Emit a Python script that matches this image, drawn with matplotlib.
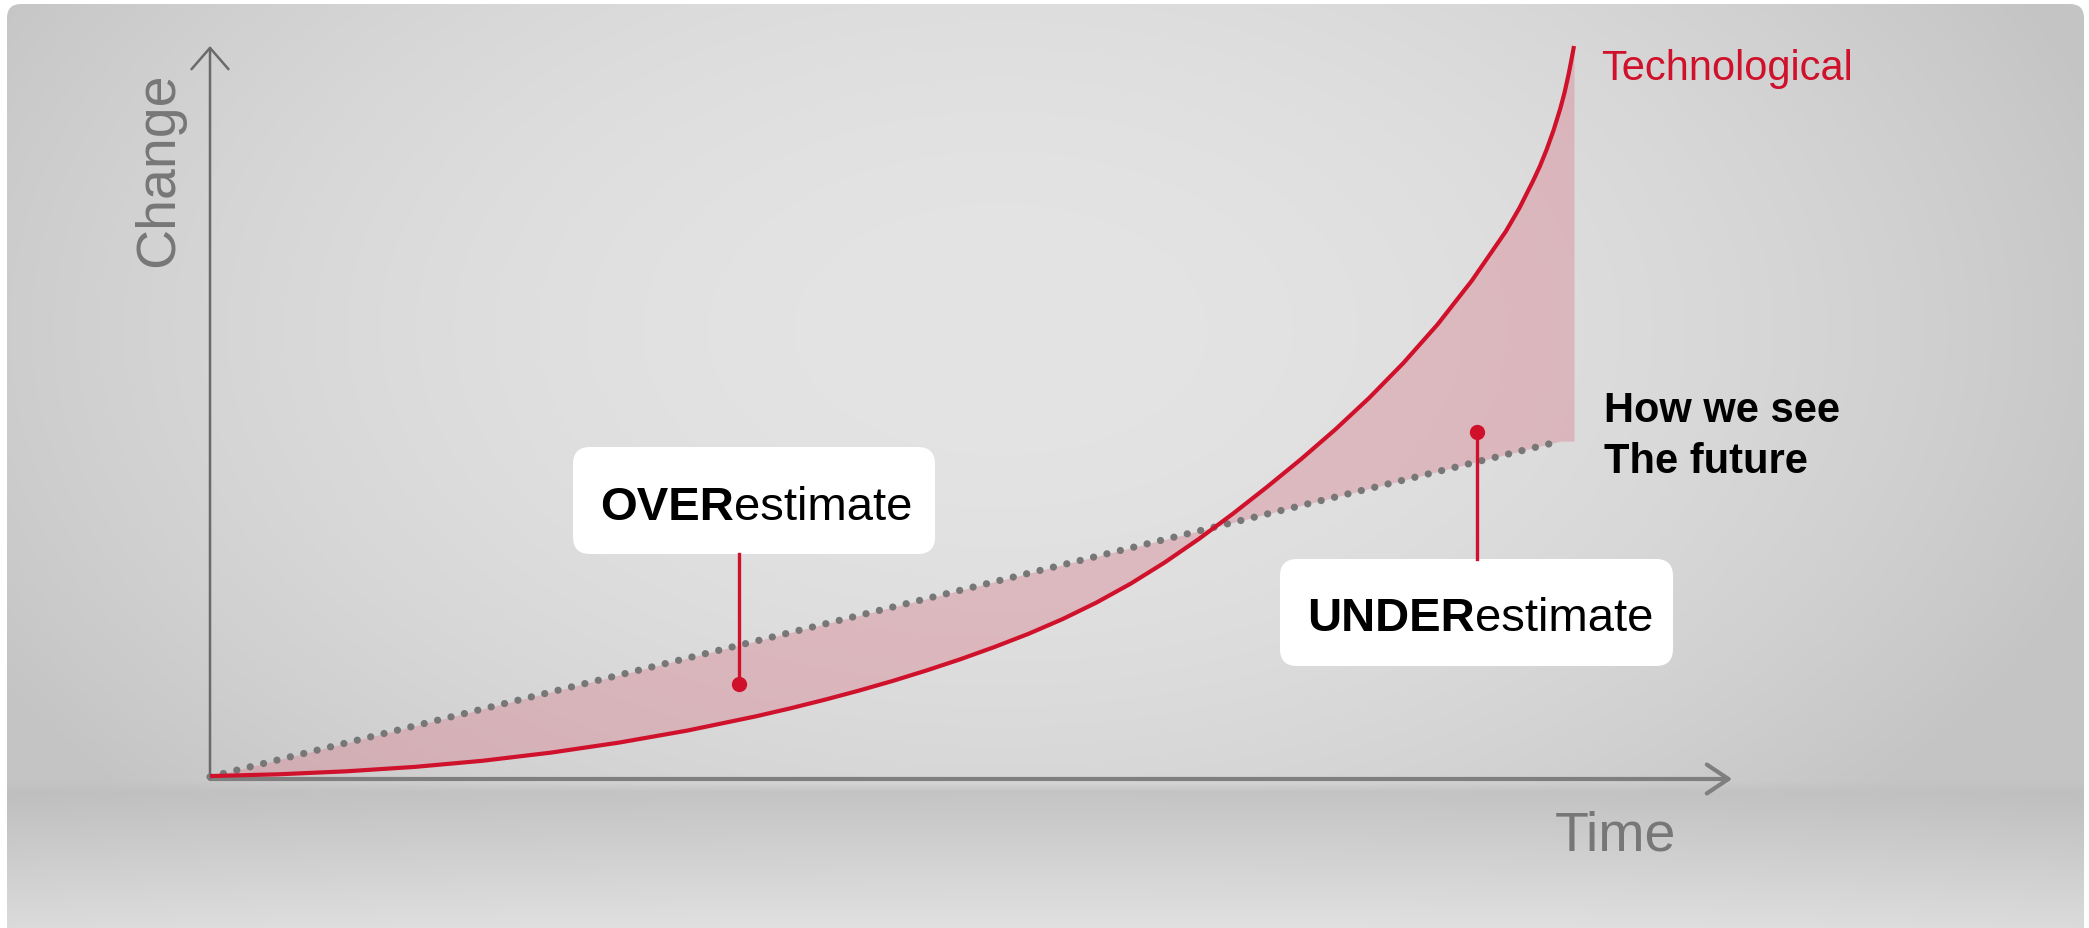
import numpy as np
import matplotlib
matplotlib.use("Agg")
import matplotlib.pyplot as plt
from matplotlib.patches import FancyBboxPatch

# ---------------- data ----------------
time = [0, 0.5, 1, 1.5, 2, 2.5, 3, 3.5, 4, 4.25, 4.5, 4.75, 5, 5.25, 5.5,
        5.75, 6, 6.25, 6.5, 6.75, 7, 7.25, 7.5, 7.75, 8, 8.25, 8.5, 8.75,
        9, 9.25, 9.5, 9.6, 9.7, 9.75, 9.8, 9.85, 9.9, 9.93, 9.96, 9.98, 10]
technological = [0.4, 0.64, 1.05, 1.65, 2.49, 3.6, 4.97, 6.61, 8.54, 9.62,
                 10.78, 12.02, 13.35, 14.79, 16.33, 18.0, 19.8, 21.81, 24.08,
                 26.65, 29.55, 32.75, 36.2, 39.85, 43.65, 47.68, 52.02, 56.77,
                 62.02, 67.96, 74.7, 77.9, 81.6, 83.6, 85.9, 88.5, 91.5, 93.6,
                 96.1, 98.0, 100]
perception_time = [0, 9.9]
perception = [0.3, 46.1]
over_point = (3.88, 13.0)
over_anchor = (3.88, 30.7)
under_point = (9.29, 47.3)
under_anchor = (9.29, 30.0)
x_axis_end = 11.16
y_axis_end = 100

series_label = "Technological"
perception_label = ["How we see", "The future"]
x_label = "Time"
y_label = "Change"

RED = "#d0112b"
FONT = "Liberation Sans"

W, H = 2089, 929
fig = plt.figure(figsize=(W / 100, H / 100), dpi=100)
fig.patch.set_facecolor("white")

# ---------------- background (pixel-space layer) ----------------
bg = fig.add_axes([0, 0, 1, 1], zorder=0)
bg.set_xlim(0, W)
bg.set_ylim(H, 0)
bg.axis("off")
yy, xx = np.mgrid[0:H, 0:W].astype(float)
r2 = ((xx - 1000) / 1150) ** 2 + ((yy - 330) / 700) ** 2
top = np.clip(228 - 31 * r2, 196, 255)
bottom = 197 + 28 * np.clip((yy - 795) / (H - 795), 0, 1) - 6 * ((xx - 1044) / 1044) ** 2
w = np.clip((yy - 782) / 10, 0, 1)
img = (top * (1 - w) + bottom * w) / 255.0
rgb = np.dstack([img, img, img])
panel = FancyBboxPatch((7, 5), W - 12, H + 20, boxstyle="round,pad=0,rounding_size=14",
                       facecolor="none", edgecolor="none")
bg.add_patch(panel)
im = bg.imshow(rgb, extent=(0, W, H, 0), interpolation="bilinear", aspect="auto")
im.set_clip_path(panel)

# annotation boxes
for (x0, y0, x1, y1) in [(573, 448, 935, 555), (1280, 560, 1673, 667)]:
    bg.add_patch(FancyBboxPatch((x0, y0), x1 - x0, y1 - y0,
                                boxstyle="round,pad=0,rounding_size=17",
                                facecolor="white", edgecolor="none", zorder=3))

def mixed(x, y, bold, regular, size):
    t1 = bg.text(x, y, bold, fontsize=size, fontweight="bold", family=FONT,
                 color="black", ha="left", va="baseline", zorder=4)
    bg.annotate(regular, xy=(1, 0), xycoords=t1, fontsize=size, family=FONT,
                color="black", ha="left", va="bottom", zorder=4)

mixed(600, 520, "OVER", "estimate", 34)
mixed(1307, 631, "UNDER", "estimate", 34)

bg.text(1601, 80, series_label, fontsize=30, color=RED, family=FONT,
        ha="left", va="baseline")
bg.text(1604, 422, perception_label[0], fontsize=30, fontweight="bold",
        family=FONT, color="black", ha="left", va="baseline")
bg.text(1604, 473, perception_label[1], fontsize=30, fontweight="bold",
        family=FONT, color="black", ha="left", va="baseline")
bg.text(1555, 851, x_label, fontsize=40, color="#777777", family=FONT,
        ha="left", va="baseline")
bg.text(185, 170, y_label, fontsize=40, color="#777777", family=FONT,
        rotation=90, ha="right", va="center")

# ---------------- chart axes ----------------
ax = fig.add_axes([0, 0, 1, 1], zorder=1)
ax.set_facecolor("none")
px_x, px_y = 136.4, 7.33
ax.set_xlim(-210 / px_x, (W - 210) / px_x)
ax.set_ylim((780 - H) / px_y, 780 / px_y)
ax.axis("off")

t = np.array(time, dtype=float)
tech = np.array(technological, dtype=float)
perc_at_t = np.interp(t, perception_time, perception)

ax.fill_between(t, tech, perc_at_t, color="#d98a98", alpha=0.45,
                linewidth=0, zorder=1)

# axes arrows
ax.annotate("", xy=(0, y_axis_end), xytext=(0, 0),
            arrowprops=dict(arrowstyle="->,head_length=15.3,head_width=13.3",
                            mutation_scale=1, color="#6a6a6a", lw=1.8,
                            shrinkA=0, shrinkB=0), zorder=2)
ax.annotate("", xy=(x_axis_end, 0), xytext=(0, 0),
            arrowprops=dict(arrowstyle="->,head_length=15.6,head_width=10.4",
                            mutation_scale=1, color="#7f7f7f", lw=3.0,
                            shrinkA=0, shrinkB=0), zorder=2)

ax.plot(perception_time, perception, color="#777777", lw=5.2,
        linestyle=(0, (0.01, 1.9)), dash_capstyle="round", zorder=3)
ax.plot(t, tech, color=RED, lw=3.0, solid_capstyle="butt",
        solid_joinstyle="round", zorder=4)

for anchor, pt in [(over_anchor, over_point), (under_anchor, under_point)]:
    ax.plot([anchor[0], pt[0]], [anchor[1], pt[1]], color=RED, lw=2.4, zorder=5)
    ax.plot([pt[0]], [pt[1]], "o", color=RED, markersize=10, zorder=6)

fig.savefig("out.png", dpi=100, facecolor="white")
